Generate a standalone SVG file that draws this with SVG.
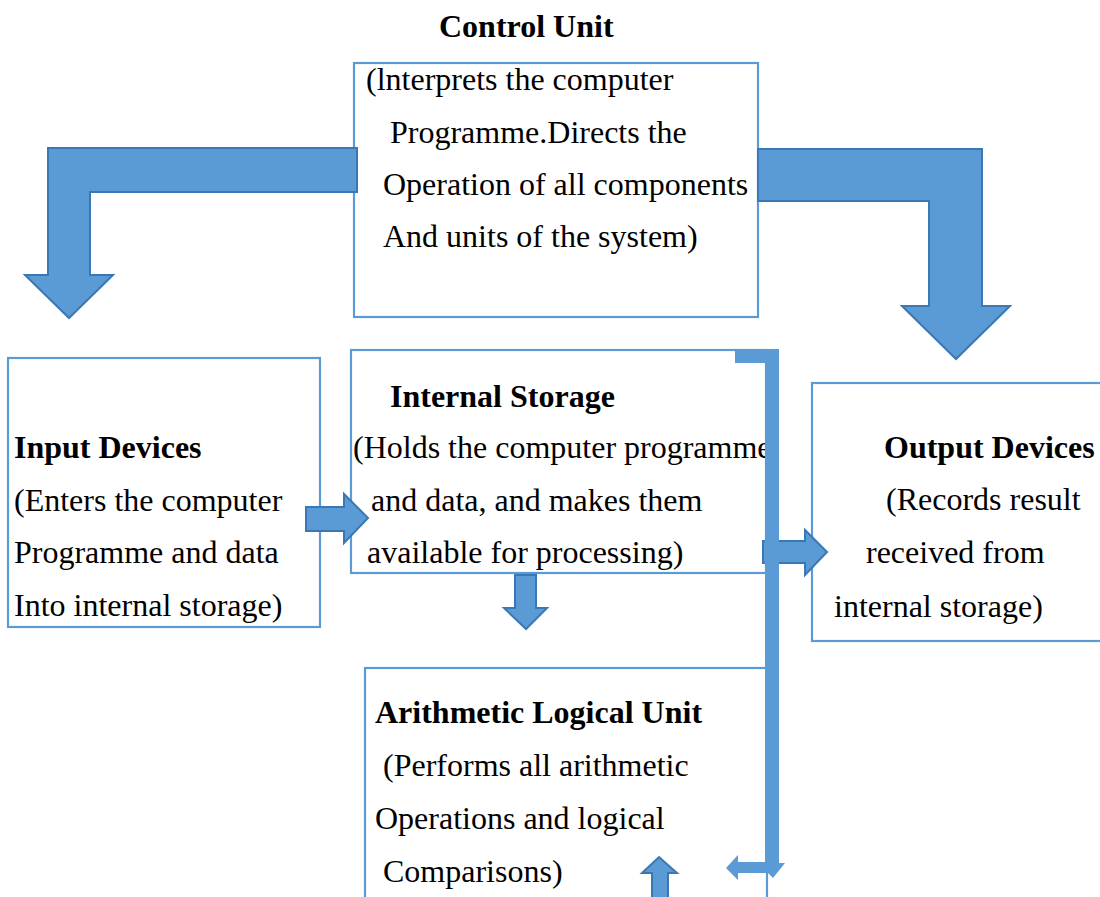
<svg xmlns="http://www.w3.org/2000/svg" width="1100" height="897" viewBox="0 0 1100 897">
<style>
.box{fill:#ffffff;stroke:#5B9BD5;stroke-width:2.2}
.arr{fill:#5B9BD5;stroke:#3A78B5;stroke-width:2;stroke-linejoin:miter}
.bar{fill:#5B9BD5;stroke:none}
.t{font-family:"Liberation Serif","Times New Roman",serif;font-size:32px;fill:#000}
.b{font-weight:bold}
</style>
<rect width="1100" height="897" fill="#ffffff"/>
<g id="control-unit">
<text class="t b" x="439" y="37">Control Unit</text>
<rect class="box" x="354" y="63" width="404" height="254"/>
<text class="t" x="366" y="90">(lnterprets the computer</text>
<text class="t" x="390" y="143">Programme.Directs the</text>
<text class="t" x="383" y="195">Operation of all components</text>
<text class="t" x="383" y="247">And units of the system)</text>
</g>
<g id="input-devices">
<rect class="box" x="8" y="358" width="312" height="269"/>
<text class="t b" x="14" y="458">Input Devices</text>
<text class="t" x="14" y="511">(Enters the computer</text>
<text class="t" x="14" y="563">Programme and data</text>
<text class="t" x="14" y="616">Into internal storage)</text>
</g>
<g id="internal-storage">
<rect class="box" x="351" y="350" width="415" height="223"/>
<text class="t b" x="390" y="407">Internal Storage</text>
<text class="t" x="353" y="458">(Holds the computer programme</text>
<text class="t" x="371" y="511">and data, and makes them</text>
<text class="t" x="367" y="563">available for processing)</text>
</g>
<g id="output-devices">
<rect class="box" x="812" y="383" width="300" height="258"/>
<text class="t b" x="884" y="458">Output Devices</text>
<text class="t" x="886" y="510">(Records result</text>
<text class="t" x="866" y="563">received from</text>
<text class="t" x="834" y="617">internal storage)</text>
</g>
<g id="alu">
<rect class="box" x="365" y="668" width="402" height="260"/>
<text class="t b" x="375" y="723">Arithmetic Logical Unit</text>
<text class="t" x="383" y="776">(Performs all arithmetic</text>
<text class="t" x="375" y="829">Operations and logical</text>
<text class="t" x="383" y="882">Comparisons)</text>
</g>
<g id="connectors">
<path class="arr" d="M48,148 L357,148 L357,192 L90,192 L90,275 L113,275 L69,318 L25,275 L48,275 Z"/>
<path class="arr" d="M758,149 L982,149 L982,306 L1010,306 L956,359 L902,306 L929,306 L929,201 L758,201 Z"/>
<path class="arr" d="M306,507 L344,507 L344,494 L368,518 L344,543 L344,531 L306,531 Z"/>
<path class="arr" d="M515,575 L536,575 L536,608 L547,608 L526,629 L504,608 L515,608 Z"/>
<path class="arr" d="M763,541 L805,541 L805,530 L827,552 L805,575 L805,563 L763,563 Z"/>
<path class="bar" d="M735,349 L779,349 L779,863 L785,863 L773,878 L765,870 L765,363 L735,363 Z"/>
<path class="bar" d="M777,862 L777,873 L738,873 L738,880 L726,868 L738,855 L738,862 Z"/>
<path class="arr" d="M652,900 L652,873 L642,873 L659,857 L677,873 L668,873 L668,900 Z"/>
</g>
</svg>
